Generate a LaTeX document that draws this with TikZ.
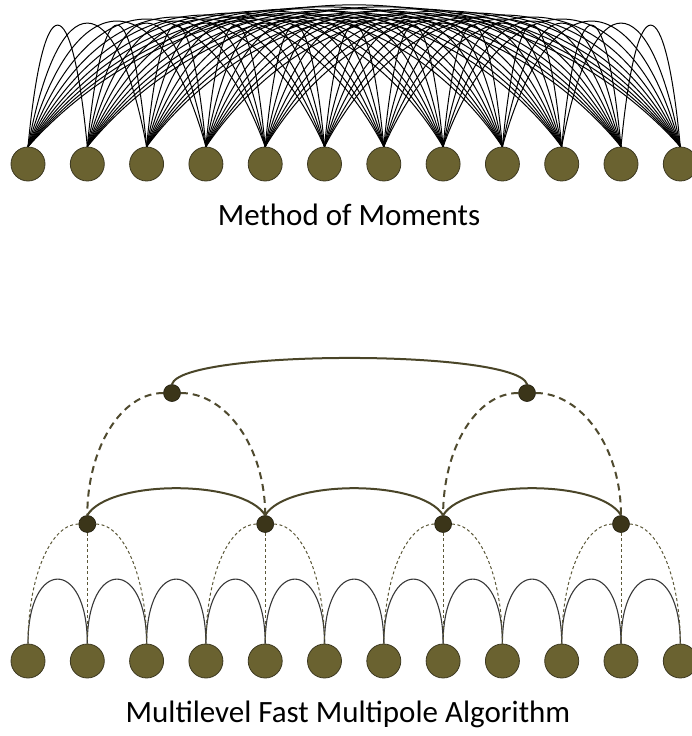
\documentclass[tikz,border=0pt]{standalone}
\usepackage{fontspec}
\setmainfont{Carlito}
\definecolor{olivefill}{HTML}{6A6230}
\definecolor{oliveedge}{HTML}{3C3820}
\definecolor{darknode}{HTML}{3B3519}
\definecolor{darkedge}{HTML}{1E1B0C}
\definecolor{oliveline}{HTML}{4A4528}
\definecolor{dashline}{HTML}{4F4A2E}
\definecolor{thindash}{HTML}{5C5838}
\definecolor{arcgray}{HTML}{383838}
\begin{document}
\begin{tikzpicture}[x=1pt,y=-1pt,
  bignode/.style={circle,draw=oliveedge,fill=olivefill,line width=0.8pt,minimum size=34pt,inner sep=0pt},
  smallnode/.style={circle,draw=darkedge,fill=darknode,line width=0.6pt,minimum size=17pt,inner sep=0pt},
  momline/.style={draw=black,line width=1pt},
  nbarc/.style={draw=arcgray,line width=1.1pt},
  thindashed/.style={draw=thindash,line width=1pt,dash pattern=on 3pt off 2.5pt},
  thickdashed/.style={draw=dashline,line width=2pt,dash pattern=on 7pt off 5pt},
  levelarc/.style={draw=oliveline,line width=2pt},
  caption/.style={font=\fontsize{31}{37}\selectfont,inner sep=0pt}]
\useasboundingbox (0,0) rectangle (692,736);
% ---------- Method of Moments ----------
\foreach \k in {1,...,12}{
  \node[bignode] (t\k) at ({28+(\k-1)*59.3},164) {};
}
\foreach \i in {1,...,11}{
  \pgfmathtruncatemacro\ii{\i+1}
  \foreach \j in {\ii,...,12}{
    \pgfmathsetmacro\dx{0.26*(\j-\i)*59.3}
    \pgfmathsetmacro\hh{162+2.7*(\j-\i-1)}
    \draw[momline] (t\i.north) .. controls +(\dx,-\hh) and +(-\dx,-\hh) .. (t\j.north);
  }
}
\node[caption] (cap1) at (349,215) {Method of Moments};
% ---------- Multilevel Fast Multipole Algorithm ----------
\foreach \k in {1,...,12}{
  \node[bignode] (b\k) at ({28+(\k-1)*59.3},661) {};
}
\foreach \i in {1,...,11}{
  \pgfmathtruncatemacro\ii{\i+1}
  \draw[nbarc] (b\i.north) .. controls +(0,-86) and +(0,-86) .. (b\ii.north);
}
% mid-level nodes
\node[smallnode] (m1) at (b2|-0,524) {};
\node[smallnode] (m2) at (b5|-0,524) {};
\node[smallnode] (m3) at (b8|-0,524) {};
\node[smallnode] (m4) at (b11|-0,524) {};
% top-level nodes
\node[smallnode] (u1) at (172,393) {};
\node[smallnode] (u2) at (527,393) {};
% thin dashed: mid nodes to leaves
\foreach \m/\l/\c/\r in {1/1/2/3, 2/4/5/6, 3/7/8/9, 4/10/11/12}{
  \draw[thindashed] (m\m.south) -- (b\c.north);
  \draw[thindashed] (m\m.west) .. controls +(-28,0) and +(0,-66) .. (b\l.north);
  \draw[thindashed] (m\m.east) .. controls +(28,0) and +(0,-66) .. (b\r.north);
}
% mid-level solid arcs
\draw[levelarc] (m1.north) .. controls +(22,-36) and +(-22,-36) .. (m2.north);
\draw[levelarc] (m2.north) .. controls +(22,-36) and +(-22,-36) .. (m3.north);
\draw[levelarc] (m3.north) .. controls +(22,-36) and +(-22,-36) .. (m4.north);
% thick dashed: top nodes to mid nodes
\draw[thickdashed] (u1.west) .. controls +(-42,0) and +(0,-67) .. (m1.north);
\draw[thickdashed] (u1.east) .. controls +(46,0) and +(0,-67) .. (m2.north);
\draw[thickdashed] (u2.west) .. controls +(-42,0) and +(0,-67) .. (m3.north);
\draw[thickdashed] (u2.east) .. controls +(46,0) and +(0,-67) .. (m4.north);
% top-level solid arc
\draw[levelarc] (u1.north) .. controls +(10,-35) and +(-10,-35) .. (u2.north);
\node[caption] (cap2) at (348,714) {Multilevel Fast Multipole Algorithm};
\end{tikzpicture}
\end{document}
